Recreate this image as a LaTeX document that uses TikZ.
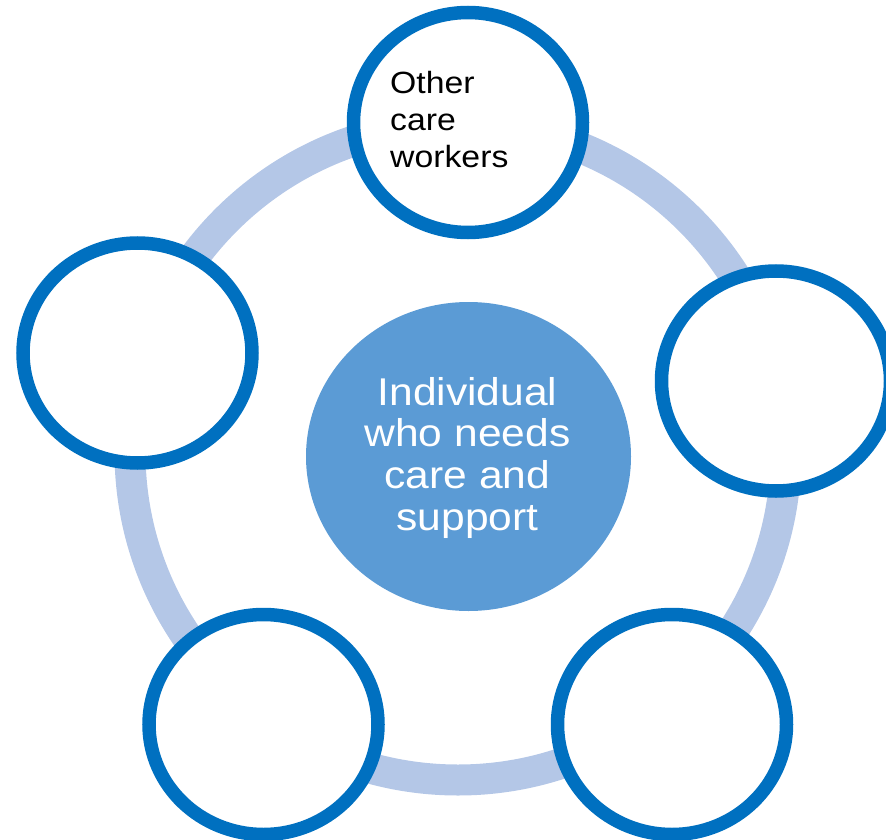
\documentclass[tikz,border=0pt]{standalone}
\usepackage{fontspec}
\setmainfont{Liberation Sans}
\usepackage{graphicx}
\definecolor{ringblue}{HTML}{B4C7E7}
\definecolor{strokeblue}{HTML}{0070C0}
\definecolor{centerblue}{HTML}{5B9BD5}
\begin{document}
\begin{tikzpicture}[x=1pt,y=-1pt,
  ringline/.style={draw=ringblue,line width=31pt},
  member/.style={draw=strokeblue,line width=13.5pt,fill=white},
  hub/.style={fill=centerblue},
  labeltext/.style={inner sep=0pt,text=black},
  hubtext/.style={inner sep=0pt,text=white}]
\useasboundingbox (0,0) rectangle (886,840);
\begin{scope}
\clip (0,0) rectangle (886,840);
% ring
\draw[ringline] (458,452) circle [radius=328];
% centre
\fill[hub] (468.5,456.5) ellipse [x radius=162.5, y radius=154.5];
\coordinate (hubc) at (468.5,456.5);
% outer members
\draw[member] (468,122.5) ellipse [x radius=114.5, y radius=110];
\coordinate (top) at (468,122.5);
\draw[member] (137.5,353) ellipse [x radius=114.5, y radius=110];
\coordinate (left) at (137.5,353);
\draw[member] (776,381) ellipse [x radius=114.5, y radius=110];
\coordinate (right) at (776,381);
\draw[member] (263.5,724.5) ellipse [x radius=114.5, y radius=110];
\coordinate (botleft) at (263.5,724.5);
\draw[member] (672,724.5) ellipse [x radius=114.5, y radius=110];
\coordinate (botright) at (672,724.5);
\end{scope}
% texts
\node[labeltext,anchor=base west] (toplabel) at (390,94)
  {\scalebox{1.1}[1]{\fontsize{30.7}{37}\selectfont\begin{tabular}[t]{@{}l@{}}Other\\care\\workers\end{tabular}}};
\node[hubtext,anchor=base] (hublabel) at (467.5,405)
  {\scalebox{1.1}[1]{\fontsize{38.7}{41.7}\selectfont\begin{tabular}[t]{@{}c@{}}Individual\\who needs\\care and\\support\end{tabular}}};
\end{tikzpicture}
\end{document}
